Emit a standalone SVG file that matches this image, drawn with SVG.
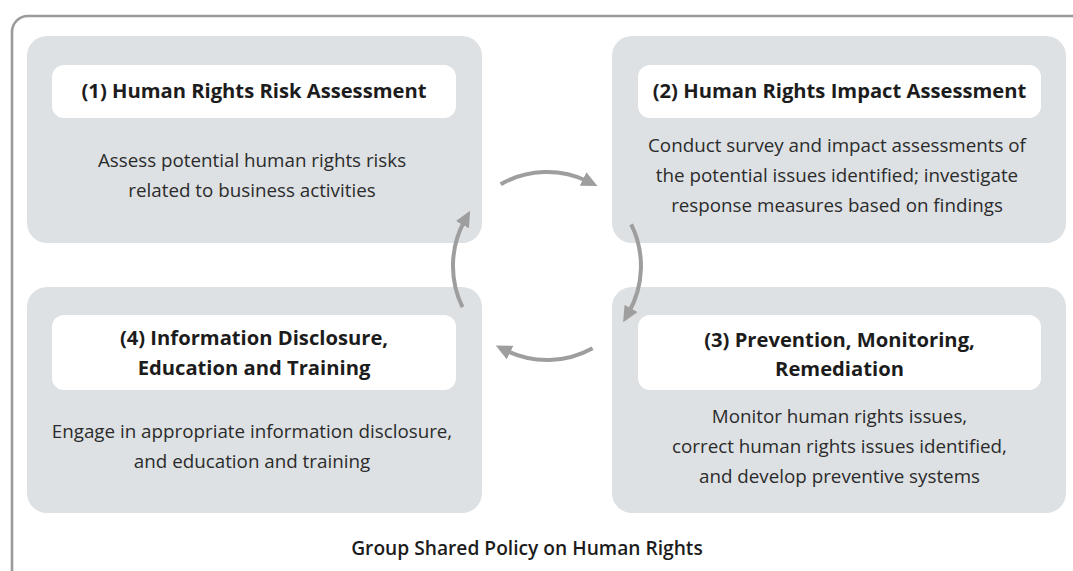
<svg xmlns="http://www.w3.org/2000/svg" width="1073" height="571" viewBox="0 0 1073 571">
  <defs>
    <style>
      .frame { fill: #ffffff; stroke: #9b9b9b; stroke-width: 2.6; }
      .card { fill: #dde1e4; }
      .head { fill: #ffffff; }
      .title { font-family: "Open Sans", "Noto Sans", "Liberation Sans", sans-serif; font-size: 20.2px; font-weight: 700; fill: #1c1c1c; text-anchor: middle; }
      .body { font-family: "Open Sans", "Noto Sans", "Liberation Sans", sans-serif; font-size: 18.8px; font-weight: 400; fill: #2b2b2b; text-anchor: middle; }
      .foot { font-family: "Open Sans", "Noto Sans", "Liberation Sans", sans-serif; font-size: 19.2px; font-weight: 600; fill: #1c1c1c; text-anchor: middle; }
      .flow { fill: none; stroke: #9e9e9e; stroke-width: 4; }
    </style>
    <marker id="head" markerUnits="userSpaceOnUse" markerWidth="18" markerHeight="16" refX="5" refY="7.5" orient="auto">
      <path d="M0,0 L16,7.5 L0,15 z" fill="#9e9e9e"/>
    </marker>
  </defs>

  <!-- outer policy frame, runs off the right and bottom edges -->
  <rect class="frame" x="12" y="16" width="1080" height="570" rx="16" ry="16"/>

  <g id="step1">
    <rect class="card" x="27" y="36" width="455" height="207" rx="20" ry="20"/>
    <rect class="head" x="52" y="65" width="404" height="53" rx="12" ry="12"/>
    <text class="title" x="254" y="98">(1) Human Rights Risk Assessment</text>
    <text class="body" x="252" y="167">Assess potential human rights risks</text>
    <text class="body" x="252" y="197">related to business activities</text>
  </g>

  <g id="step2">
    <rect class="card" x="612" y="36" width="454" height="207" rx="20" ry="20"/>
    <rect class="head" x="638" y="65" width="403" height="53" rx="12" ry="12"/>
    <text class="title" x="839.5" y="98">(2) Human Rights Impact Assessment</text>
    <text class="body" x="837" y="152">Conduct survey and impact assessments of</text>
    <text class="body" x="837" y="182">the potential issues identified; investigate</text>
    <text class="body" x="837" y="212">response measures based on findings</text>
  </g>

  <g id="step3">
    <rect class="card" x="612" y="287" width="454" height="226" rx="20" ry="20"/>
    <rect class="head" x="638" y="315" width="403" height="75" rx="12" ry="12"/>
    <text class="title" x="839.5" y="347">(3) Prevention, Monitoring,</text>
    <text class="title" x="839.5" y="376">Remediation</text>
    <text class="body" x="839.5" y="423">Monitor human rights issues,</text>
    <text class="body" x="839.5" y="453">correct human rights issues identified,</text>
    <text class="body" x="839.5" y="483">and develop preventive systems</text>
  </g>

  <g id="step4">
    <rect class="card" x="27" y="287" width="455" height="226" rx="20" ry="20"/>
    <rect class="head" x="52" y="315" width="404" height="75" rx="12" ry="12"/>
    <text class="title" x="254" y="345">(4) Information Disclosure,</text>
    <text class="title" x="254" y="375">Education and Training</text>
    <text class="body" x="252" y="438">Engage in appropriate information disclosure,</text>
    <text class="body" x="252" y="468">and education and training</text>
  </g>

  <g id="policy">
    <text class="foot" x="527" y="555">Group Shared Policy on Human Rights</text>
  </g>

  <!-- circular cycle arrows between the four steps -->
  <g id="connectors">
    <path class="flow" marker-end="url(#head)" d="M500.7,184.2 A94,94 0 0 1 587.6,181.2"/>
    <path class="flow" marker-end="url(#head)" d="M631.2,224.4 A94,94 0 0 1 628.6,312.7"/>
    <path class="flow" marker-end="url(#head)" d="M592.6,348.2 A94,94 0 0 1 505.6,350.4"/>
    <path class="flow" marker-end="url(#head)" d="M462.5,307.2 A94,94 0 0 1 464.8,220.3"/>
  </g>
</svg>
